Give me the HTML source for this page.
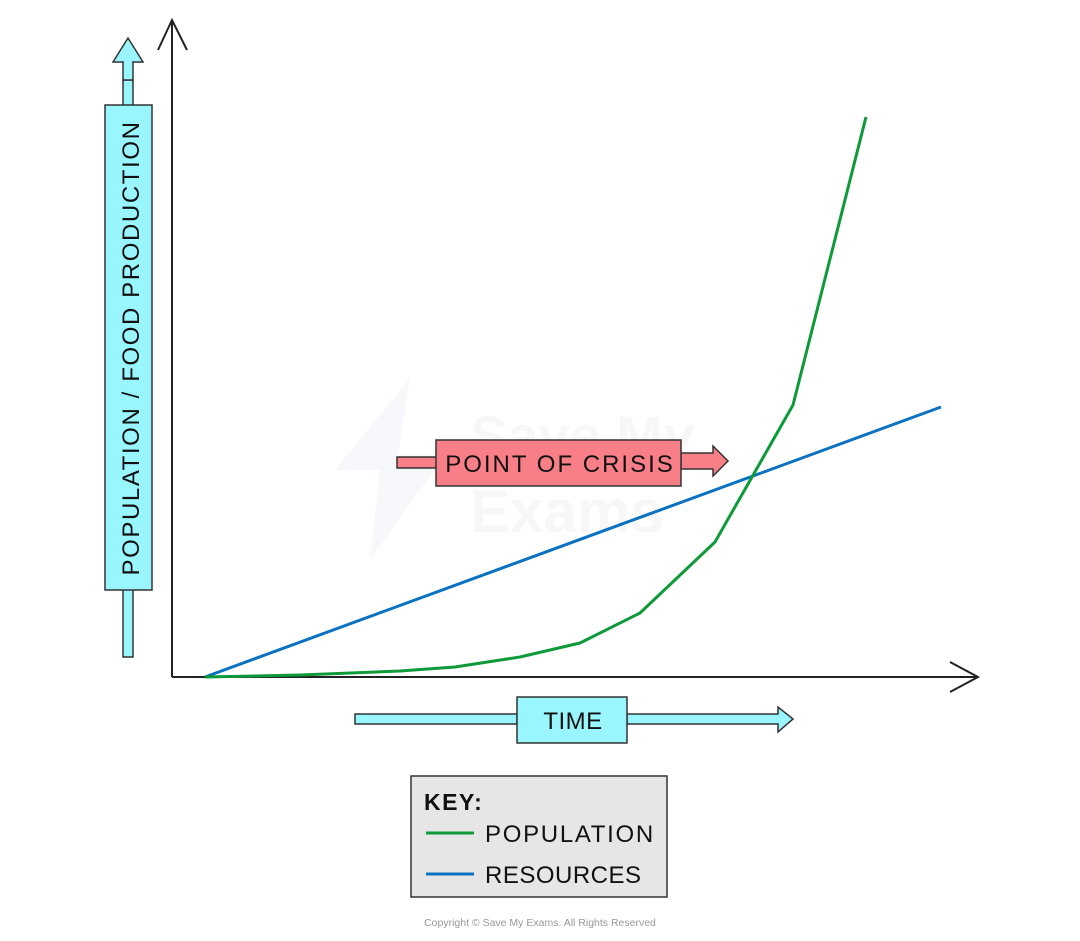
<!DOCTYPE html>
<html><head><meta charset="utf-8"><style>
html,body{margin:0;padding:0;background:#fff;}
svg{display:block;}
text{font-family:"Liberation Sans",sans-serif;}
</style></head><body>
<svg width="1080" height="941" viewBox="0 0 1080 941" xmlns="http://www.w3.org/2000/svg">
<!-- watermark -->
<text x="470" y="455" font-size="56" font-weight="bold" fill="#f7f7f7">Save My</text>
<text x="470" y="532" font-size="60" font-weight="bold" fill="#f7f7f7">Exams</text>
<polygon points="410,378 335,470 380,470 370,560 445,455 398,455" fill="#f7f8fc"/>
<!-- axes -->
<g stroke="#222" stroke-width="2" fill="none">
<line x1="172" y1="20" x2="172" y2="677"/>
<polyline points="158,50 172,20 187,50"/>
<line x1="172" y1="677" x2="978" y2="677"/>
<polyline points="950,662 978,677 950,692"/>
</g>
<!-- y arrow -->
<g fill="#99f6ff" stroke="#333" stroke-width="1.5">
<rect x="123" y="80" width="10" height="577"/>
<polygon points="113,62 128,38 143,62 133,62 133,80 123,80 123,62"/>
<rect x="105" y="105" width="47" height="485"/>
</g>
<text transform="translate(139,348) rotate(-90)" text-anchor="middle" font-size="24" letter-spacing="1.6" fill="#111">POPULATION / FOOD PRODUCTION</text>
<!-- curves -->
<polyline points="205,677 941,407" stroke="#0b72c2" stroke-width="3" fill="none"/>
<polyline points="205,677 300,675 400,671 455,667 520,657 580,643 640,613 715,542 793,405 866,117" stroke="#0f9a3a" stroke-width="3" fill="none" stroke-linejoin="round"/>
<!-- crisis -->
<g fill="#f87e88" stroke="#333" stroke-width="1.5">
<rect x="397" y="457" width="40" height="11"/>
<polygon points="681,453 713,453 713,446 728,461 713,476 713,469 681,469"/>
<rect x="436" y="440" width="245" height="46"/>
</g>
<text x="560" y="472" text-anchor="middle" font-size="24" letter-spacing="2" fill="#111">POINT OF CRISIS</text>
<!-- time -->
<g fill="#99f6ff" stroke="#333" stroke-width="1.5">
<rect x="355" y="714" width="162" height="10"/>
<polygon points="627,714 778,714 778,707 793,719 778,732 778,724 627,724"/>
<rect x="517" y="697" width="110" height="46"/>
</g>
<text x="573" y="729" text-anchor="middle" font-size="24" letter-spacing="0.5" fill="#111">TIME</text>
<!-- key -->
<rect x="411" y="776" width="256" height="121" fill="#e6e6e6" stroke="#333" stroke-width="1.5"/>
<text x="424" y="810" font-size="23" font-weight="bold" letter-spacing="1.5" fill="#111">KEY:</text>
<line x1="426" y1="833" x2="474" y2="833" stroke="#0f9a3a" stroke-width="3"/>
<text x="485" y="842" font-size="24" letter-spacing="1.7" fill="#111">POPULATION</text>
<line x1="426" y1="874" x2="474" y2="874" stroke="#0b72c2" stroke-width="3"/>
<text x="485" y="883" font-size="24" letter-spacing="0.5" fill="#111">RESOURCES</text>
<text x="540" y="926" text-anchor="middle" font-size="10.5" fill="#999">Copyright © Save My Exams. All Rights Reserved</text>
</svg>
</body></html>
